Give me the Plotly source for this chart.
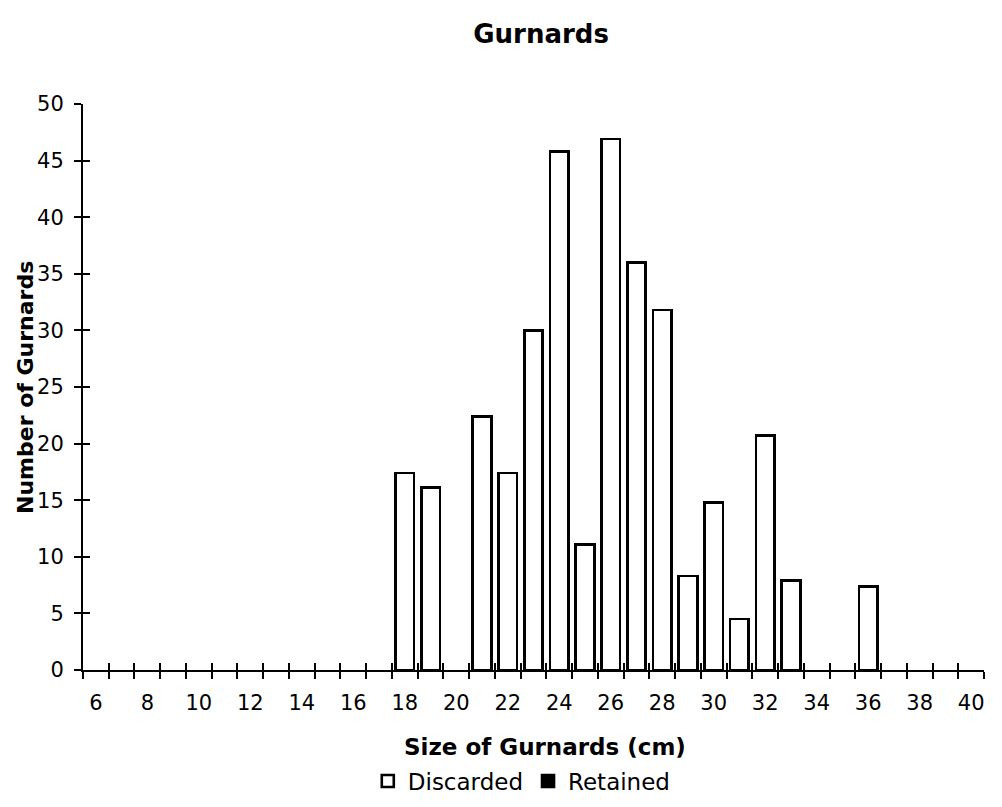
import plotly.graph_objects as go

# Size classes (cm) and counts of gurnards per class
sizes = list(range(6, 41))
discarded_counts = {
    18: 17.4, 19: 16.1, 21: 22.4, 22: 17.4, 23: 30.0, 24: 45.8, 25: 11.1,
    26: 46.9, 27: 36.0, 28: 31.8, 29: 8.3, 30: 14.8, 31: 4.5, 32: 20.7,
    33: 7.9, 36: 7.4,
}
discarded = [discarded_counts.get(s) for s in sizes]
retained = [None for s in sizes]

x_labels = list(range(6, 41, 2))
y_ticks = list(range(0, 51, 5))
boundaries = [s - 0.5 for s in sizes] + [sizes[-1] + 0.5]

FONT = "DejaVu Sans, Arial, sans-serif"

fig = go.Figure()
fig.add_trace(go.Bar(
    x=sizes, y=discarded, name="Discarded", width=0.72,
    marker=dict(color="white", line=dict(color="black", width=2.6)),
))
fig.add_trace(go.Bar(
    x=sizes, y=retained, name="Retained", width=0.72,
    marker=dict(color="black", line=dict(color="black", width=2.6)),
))

x_range = [sizes[0] - 0.5, sizes[-1] + 0.5]

fig.update_layout(
    width=1002, height=807,
    margin=dict(l=83, r=18, t=104, b=137, autoexpand=False),
    paper_bgcolor="white", plot_bgcolor="white",
    barmode="stack",
    font=dict(family=FONT, size=21, color="black"),
    title=dict(text="<b>Gurnards</b>", x=0.54, xanchor="center",
               y=1 - 34 / 807, yanchor="middle",
               font=dict(size=26, family=FONT, color="black")),
    xaxis=dict(
        range=x_range, tickmode="array", tickvals=x_labels,
        ticktext=[str(v) for v in x_labels], ticks="", ticklen=0,
        ticklabelstandoff=13, automargin=False,
        showgrid=False, zeroline=False,
        showline=True, linecolor="black", linewidth=2,
        minor=dict(tickvals=boundaries, ticks="outside", ticklen=7,
                   tickwidth=2, tickcolor="black", showgrid=False),
        tickfont=dict(size=21),
    ),
    xaxis2=dict(
        range=x_range, overlaying="x", anchor="y", side="bottom",
        tickmode="array", tickvals=boundaries, ticks="inside", ticklen=7,
        tickwidth=2, tickcolor="black", showticklabels=False,
        showgrid=False, zeroline=False, showline=False,
    ),
    yaxis=dict(
        range=[0, 50], tickmode="array", tickvals=y_ticks,
        ticks="outside", ticklen=7, tickwidth=2, tickcolor="black",
        ticklabelstandoff=6, automargin=False,
        showgrid=False, zeroline=False,
        showline=True, linecolor="black", linewidth=2,
        tickfont=dict(size=21),
    ),
    yaxis2=dict(
        range=[0, 50], overlaying="y", anchor="x", side="left",
        tickmode="array", tickvals=y_ticks, ticks="inside", ticklen=7,
        tickwidth=2, tickcolor="black", showticklabels=False,
        showgrid=False, zeroline=False, showline=False,
    ),
    legend=dict(orientation="h", x=0.487, xanchor="center",
                yref="container", y=1 - 781 / 807, yanchor="middle",
                font=dict(size=23), itemwidth=30, traceorder="normal"),
    showlegend=True,
    annotations=[
        dict(text="<b>Number of Gurnards</b>", textangle=-90,
             xref="paper", yref="paper", x=-0.0644, y=0.5,
             xanchor="center", yanchor="middle", showarrow=False,
             font=dict(size=22, family=FONT, color="black")),
        dict(text="<b>Size of Gurnards (cm)</b>",
             xref="paper", yref="paper", x=0.513, y=-0.136,
             xanchor="center", yanchor="middle", showarrow=False,
             font=dict(size=23, family=FONT, color="black")),
    ],
)

# Invisible traces bind the overlay axes so their ticks are drawn
fig.add_trace(go.Scatter(x=[None], y=[None], xaxis="x2", yaxis="y2",
                         showlegend=False, hoverinfo="skip"))

fig.write_html("out.html")
